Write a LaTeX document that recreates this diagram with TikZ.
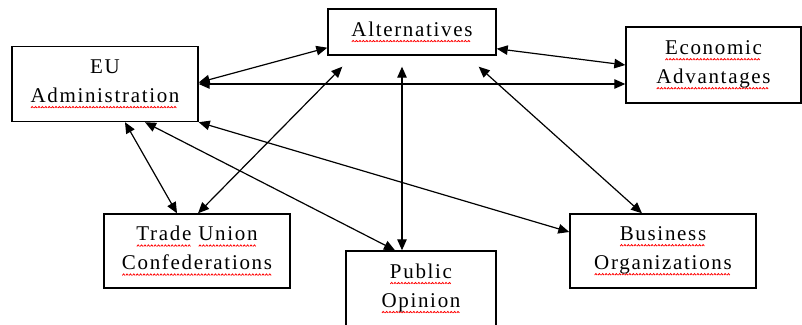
\documentclass[tikz,border=0pt]{standalone}
\usepackage{fontspec}
\setmainfont{Liberation Serif}[LetterSpace=8]
\usetikzlibrary{arrows.meta}

% red spell-check wave under a word
\newsavebox\spellbox
\newcommand\wavebit{\tikz[x=1pt,y=1pt]\draw[red,line width=0.8pt] (0,0)--(1.3,1.5)--(2.6,0);}
\newcommand\spellmark[1]{\sbox\spellbox{#1}%
  \rlap{\raisebox{-6pt}{\leaders\hbox{\wavebit}\hskip\wd\spellbox}}\usebox\spellbox}

\begin{document}
\begin{tikzpicture}[
    x=1pt, y=-1pt,
    % boxes
    box/.style={draw, line width=1.4pt, align=center, inner sep=0pt,
        font=\fontsize{21}{29}\selectfont},
    % two-way links
    arr/.style={line width=1.2pt, {Triangle[length=11pt,width=9.5pt]}-{Triangle[length=11pt,width=9.5pt]}}
]
\useasboundingbox (0,0) rectangle (802,324);

% Actors
\node[box, minimum width=186pt, minimum height=75pt] (eu) at (105,84) {EU\\\spellmark{Administration}};
\node[box, minimum width=168pt, minimum height=46pt] (alt) at (412,32) {\spellmark{Alternatives}};
\node[box, minimum width=175pt, minimum height=76pt] (econ) at (713.5,65) {\spellmark{Economic}\\\spellmark{Advantages}};
\node[box, minimum width=186pt, minimum height=74pt] (trade) at (197,251) {\spellmark{Trade} \spellmark{Union}\\\spellmark{Confederations}};
\node[box, minimum width=150pt, minimum height=75pt] (public) at (421,288.5) {\spellmark{Public}\\\spellmark{Opinion}};
\node[box, minimum width=186pt, minimum height=74pt] (bus) at (663,251) {\spellmark{Business}\\\spellmark{Organizations}};

% Links
\draw[arr] ([yshift=1.5pt]eu.east) -- ([yshift=8pt]alt.south west);
\draw[arr] (eu.east) -- (eu.east -| econ.west);
\draw[arr] ([yshift=7pt]alt.south east) -- (econ.west);
\draw[arr] ([xshift=-10pt,yshift=-11pt]alt.south) -- ([xshift=-19pt]public.north);
\draw[arr] ([xshift=15pt,yshift=-11pt]alt.south west) -- ([xshift=1pt]trade.north);
\draw[arr] ([xshift=20pt]eu.south) -- ([xshift=-20pt]trade.north);
\draw[arr] ([xshift=40pt]eu.south) -- ([xshift=-26pt]public.north);
\draw[arr] (eu.south east) -- ([yshift=19pt]bus.west);
\draw[arr] ([xshift=-18pt,yshift=-11pt]alt.south east) -- ([xshift=-21pt]bus.north);

\end{tikzpicture}
\end{document}
